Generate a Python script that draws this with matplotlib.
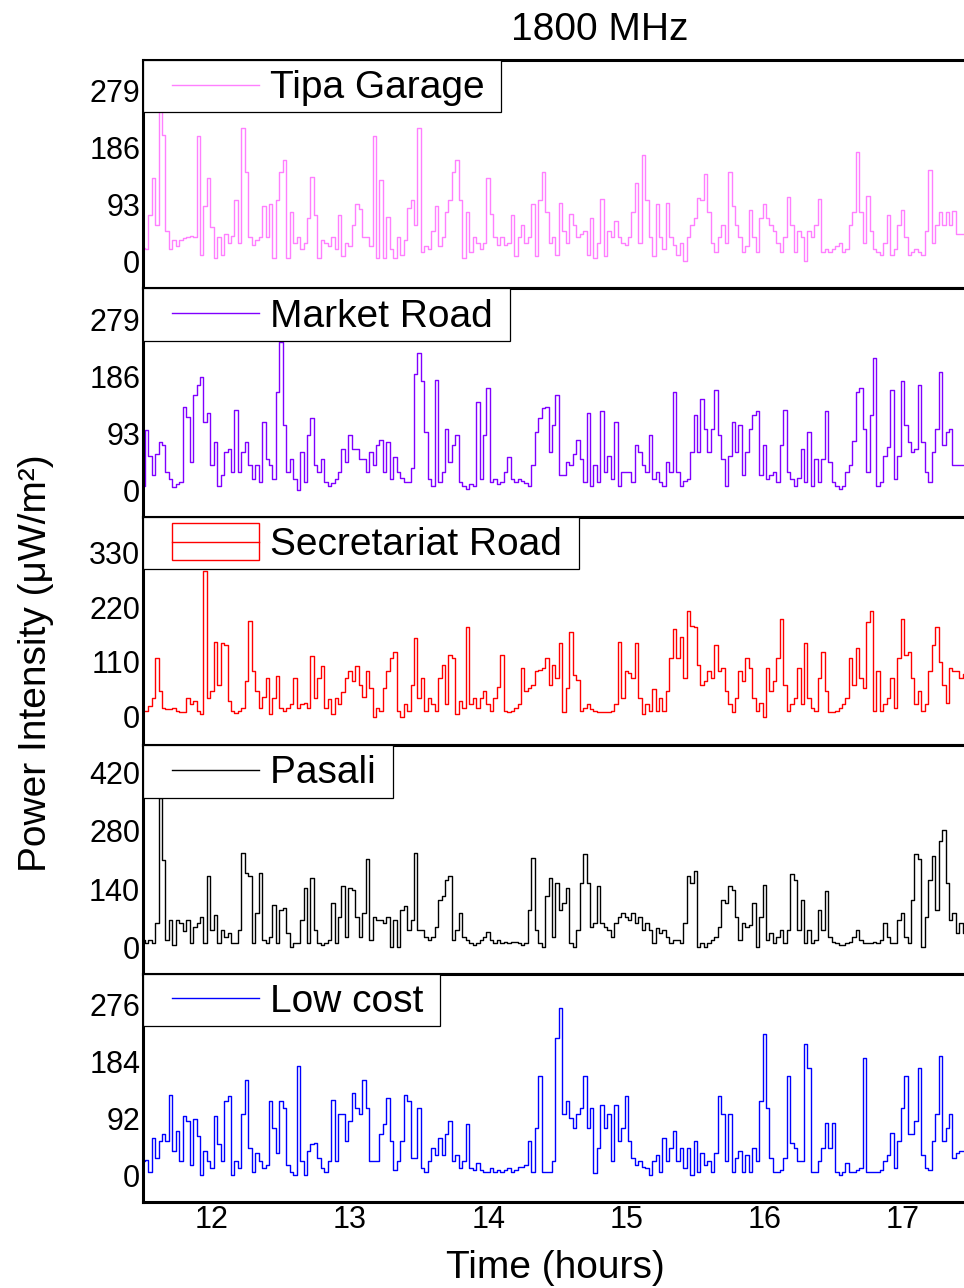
import matplotlib
matplotlib.use("Agg")
import matplotlib.pyplot as plt
import numpy as np
from matplotlib.legend_handler import HandlerBase
from matplotlib.lines import Line2D
from matplotlib.patches import Rectangle

plt.rcParams['font.family'] = ['Liberation Sans', 'DejaVu Sans']

# ---------------- data ----------------
start_hour = 11.5          # first sample (hours)
step_minutes = 1.5         # sampling interval

tipa_garage = [
    21, 20, 75, 135, 60, 245, 206, 50, 20, 35,
    25, 35, 38, 40, 42, 40, 204, 10, 90, 135,
    56, 5, 40, 10, 45, 30, 42, 100, 30, 217,
    145, 40, 26, 35, 40, 90, 40, 93, 6, 100,
    145, 165, 5, 80, 30, 40, 20, 30, 70, 137,
    76, 6, 35, 30, 25, 40, 20, 76, 8, 30,
    25, 60, 93, 85, 40, 40, 25, 204, 6, 132,
    5, 72, 20, 5, 40, 10, 35, 87, 100, 60,
    217, 15, 25, 20, 50, 90, 25, 40, 80, 100,
    145, 165, 100, 5, 80, 15, 40, 30, 20, 30,
    135, 77, 40, 26, 40, 26, 30, 76, 8, 40,
    60, 30, 40, 93, 8, 100, 146, 80, 30, 40,
    10, 95, 50, 30, 77, 60, 40, 45, 50, 10,
    70, 5, 30, 101, 8, 50, 40, 66, 40, 30,
    26, 40, 80, 127, 30, 173, 100, 40, 8, 93,
    40, 20, 95, 40, 26, 10, 30, 0, 40, 60,
    70, 104, 100, 143, 80, 30, 15, 40, 60, 30,
    146, 90, 60, 40, 15, 25, 84, 40, 15, 70,
    93, 70, 60, 50, 30, 15, 40, 105, 60, 15,
    50, 40, 0, 50, 40, 60, 101, 15, 20, 15,
    20, 25, 30, 15, 20, 60, 80, 178, 80, 30,
    107, 50, 20, 15, 10, 30, 75, 10, 20, 60,
    84, 40, 10, 15, 20, 15, 10, 50, 149, 30,
    60, 80, 60, 80, 60, 82, 44, 44, 44, 44,
]

market_road = [
    8, 98, 57, 25, 60, 79, 74, 30, 19, 5,
    10, 14, 137, 120, 46, 156, 172, 186, 112, 126,
    41, 79, 8, 25, 63, 68, 30, 131, 30, 63,
    79, 41, 19, 41, 14, 112, 52, 41, 19, 161,
    243, 107, 30, 52, 19, 0, 63, 14, 90, 118,
    41, 30, 52, 14, 8, 12, 19, 30, 68, 46,
    90, 68, 68, 52, 52, 30, 63, 41, 74, 82,
    30, 79, 19, 55, 30, 20, 14, 14, 36, 191,
    224, 178, 96, 19, 8, 180, 14, 30, 101, 46,
    74, 90, 14, 8, 3, 11, 8, 145, 19, 90,
    167, 14, 19, 11, 14, 30, 55, 19, 14, 19,
    16, 12, 8, 41, 96, 118, 134, 137, 63, 107,
    156, 25, 25, 46, 41, 60, 82, 52, 14, 126,
    8, 41, 14, 129, 30, 57, 19, 112, 8, 30,
    30, 30, 14, 74, 63, 41, 30, 90, 19, 30,
    14, 8, 46, 30, 161, 30, 8, 15, 19, 63,
    123, 63, 150, 101, 63, 101, 164, 90, 52, 8,
    57, 112, 63, 107, 25, 63, 100, 123, 129, 25,
    74, 19, 25, 30, 14, 74, 131, 30, 19, 8,
    20, 68, 14, 96, 8, 52, 14, 52, 129, 46,
    14, 8, 3, 8, 30, 41, 80, 161, 167, 101,
    30, 123, 216, 8, 14, 57, 71, 164, 19, 57,
    178, 107, 79, 63, 68, 172, 79, 30, 14, 63,
    100, 194, 74, 96, 101, 41, 41, 41, 41, 41,
]

secretariat_road = [
    12, 12, 22, 38, 117, 51, 18, 15, 15, 18,
    12, 9, 9, 38, 25, 32, 12, 5, 292, 38,
    51, 150, 64, 147, 144, 32, 12, 7, 12, 18,
    71, 193, 91, 51, 18, 40, 78, 5, 38, 81,
    18, 12, 18, 25, 78, 18, 25, 28, 18, 121,
    38, 78, 101, 18, 35, 5, 38, 25, 50, 78,
    91, 71, 101, 64, 40, 91, 58, 0, 18, 12,
    58, 91, 117, 130, 12, 0, 25, 12, 64, 157,
    38, 78, 12, 38, 25, 12, 78, 104, 25, 124,
    117, 5, 32, 18, 180, 25, 38, 18, 38, 51,
    25, 12, 38, 60, 124, 12, 9, 12, 18, 25,
    97, 51, 58, 64, 91, 94, 97, 117, 64, 104,
    78, 147, 9, 58, 170, 84, 74, 12, 18, 25,
    15, 12, 9, 9, 9, 9, 12, 25, 150, 38,
    91, 88, 78, 147, 38, 5, 25, 12, 55, 12,
    38, 12, 51, 117, 177, 117, 160, 78, 213, 183,
    180, 104, 64, 71, 91, 78, 144, 91, 97, 51,
    25, 9, 38, 91, 71, 117, 97, 38, 12, 28,
    0, 97, 51, 71, 117, 196, 64, 12, 25, 38,
    97, 25, 147, 38, 18, 12, 78, 130, 51, 9,
    9, 12, 18, 25, 38, 117, 64, 137, 78, 58,
    190, 213, 12, 91, 12, 25, 38, 78, 18, 117,
    196, 124, 130, 78, 25, 51, 12, 25, 91, 144,
    180, 110, 64, 28, 97, 91, 91, 78, 85, 85,
]

pasali = [
    18, 10, 18, 10, 58, 358, 209, 18, 66, 6,
    66, 58, 40, 66, 10, 50, 58, 74, 10, 172,
    42, 78, 10, 42, 26, 34, 10, 10, 42, 228,
    180, 172, 10, 82, 180, 18, 10, 26, 103, 10,
    91, 95, 34, 0, 10, 10, 66, 143, 10, 167,
    42, 10, 6, 10, 18, 107, 10, 74, 147, 26,
    143, 139, 74, 26, 82, 212, 18, 74, 66, 66,
    58, 74, 2, 66, 2, 91, 99, 42, 66, 228,
    42, 42, 26, 18, 26, 50, 115, 123, 163, 172,
    18, 42, 83, 26, 18, 10, 6, 10, 18, 26,
    38, 18, 10, 18, 10, 14, 10, 12, 14, 10,
    6, 10, 91, 216, 42, 10, 0, 123, 167, 26,
    155, 91, 107, 143, 10, 0, 42, 155, 224, 155,
    50, 58, 147, 58, 50, 42, 26, 58, 74, 83,
    74, 66, 83, 58, 74, 42, 58, 42, 10, 46,
    34, 42, 26, 10, 18, 18, 10, 58, 172, 155,
    184, 2, 10, 2, 10, 18, 26, 50, 115, 107,
    147, 139, 74, 18, 58, 50, 54, 107, 2, 74,
    151, 18, 34, 10, 26, 42, 10, 42, 176, 163,
    42, 115, 10, 42, 10, 18, 91, 42, 135, 26,
    14, 10, 6, 6, 10, 14, 26, 42, 18, 10,
    10, 10, 14, 10, 18, 58, 26, 10, 10, 66,
    83, 26, 10, 115, 224, 212, 2, 74, 163, 220,
    91, 256, 281, 155, 66, 83, 34, 58, 34, 34,
]

low_cost = [
    23, 25, 6, 60, 28, 55, 66, 55, 130, 39,
    71, 23, 95, 87, 17, 90, 63, 0, 39, 23,
    12, 95, 50, 23, 119, 128, 0, 23, 12, 98,
    154, 44, 6, 36, 23, 12, 17, 119, 76, 36,
    119, 109, 17, 6, 1, 176, 23, 1, 39, 50,
    52, 28, 12, 6, 23, 122, 23, 98, 98, 55,
    87, 133, 109, 98, 154, 109, 23, 23, 23, 66,
    82, 125, 55, 9, 23, 55, 130, 119, 28, 28,
    109, 12, 6, 23, 44, 33, 60, 33, 66, 87,
    23, 33, 12, 23, 82, 12, 9, 20, 9, 6,
    6, 12, 6, 9, 6, 9, 12, 6, 9, 14,
    14, 17, 55, 6, 76, 160, 6, 6, 6, 23,
    222, 270, 98, 119, 92, 76, 98, 109, 160, 76,
    109, 4, 44, 114, 76, 98, 23, 114, 55, 76,
    128, 55, 28, 17, 23, 14, 12, 0, 23, 33,
    6, 60, 23, 44, 71, 23, 44, 12, 44, 1,
    55, 6, 36, 17, 23, 6, 36, 128, 98, 23,
    98, 6, 28, 39, 6, 33, 6, 44, 23, 119,
    227, 109, 28, 6, 6, 9, 28, 160, 52, 44,
    23, 23, 211, 173, 6, 6, 23, 44, 84, 44,
    84, 6, 1, 6, 20, 6, 6, 9, 12, 189,
    6, 6, 6, 6, 9, 23, 33, 68, 12, 55,
    109, 160, 66, 66, 87, 173, 33, 12, 9, 55,
    98, 192, 55, 76, 98, 28, 36, 39, 39, 39,
]

site_names = ["Tipa Garage", "Market Road", "Secretariat Road", "Pasali", "Low cost"]
site_values = [tipa_garage, market_road, secretariat_road, pasali, low_cost]
site_colors = ["#FF7FFF", "#8000FF", "#FF0000", "#000000", "#0000FF"]
site_yticks = [[0, 93, 186, 279], [0, 93, 186, 279], [0, 110, 220, 330],
               [0, 140, 280, 420], [0, 92, 184, 276]]
site_ylims = [(-44, 328), (-43, 330), (-57, 401), (-63, 486), (-43, 325)]
x_ticks = [12, 13, 14, 15, 16, 17]
title_text = "1800 MHz"
x_label = "Time (hours)"
y_label = "Power Intensity (\u03bcW/m\u00b2)"


class OffsetHandle(HandlerBase):
    """Legend handle: a line (optionally inside an outlined box) drawn in the
    right part of the handle area."""
    def __init__(self, frac=0.21, box=False):
        super().__init__()
        self.frac = frac
        self.box = box

    def create_artists(self, legend, orig_handle, xdescent, ydescent,
                       width, height, fontsize, trans):
        x0 = -xdescent + self.frac * width
        x1 = -xdescent + width
        ymid = -ydescent + height / 2.0
        col = orig_handle.get_color()
        arts = []
        if self.box:
            r = Rectangle((x0, -ydescent), x1 - x0, height, facecolor='none',
                          edgecolor=col, lw=1.0, transform=trans)
            arts.append(r)
        ln = Line2D([x0, x1], [ymid, ymid], color=col, lw=1.0, transform=trans)
        arts.append(ln)
        return arts


W, H = 964, 1288
fig = plt.figure(figsize=(W / 100, H / 100), dpi=100)

left = 143 / W
right = 1057 / W
top_px, bottom_px = 60, 1202
ph = (bottom_px - top_px) / 5 / H

step_h = step_minutes / 60.0
for k, (name, vals, col, yt, yl) in enumerate(
        zip(site_names, site_values, site_colors, site_yticks, site_ylims)):
    y0 = 1 - top_px / H - (k + 1) * ph
    ax = fig.add_axes([left, y0, right - left, ph])
    v = np.asarray(vals, dtype=float)
    t = start_hour + np.arange(len(v)) * step_h
    line, = ax.plot(t, v, color=col, lw=1.0, drawstyle='steps-mid')
    ax.set_xlim(11.5, 18.12)
    ax.set_ylim(*yl)
    ax.set_yticks(yt)
    ax.set_xticks(x_ticks)
    ax.tick_params(axis='both', length=0, labelsize=22, pad=2)
    if k < 4:
        ax.tick_params(axis='x', labelbottom=False)
    for s in ax.spines.values():
        s.set_linewidth(2.2)
        s.set_color('black')
    leg = ax.legend([line], [name + " "], loc='upper left',
                    bbox_to_anchor=(0, 1), borderaxespad=0, borderpad=0.16,
                    handlelength=2.82, handleheight=1.1, handletextpad=0.28,
                    fontsize=28, frameon=True, fancybox=False,
                    edgecolor='black', framealpha=1,
                    handler_map={line: OffsetHandle(box=(k == 2))})
    leg.get_frame().set_linewidth(0.9)

fig.text(600 / W, 1 - 40 / H, title_text, ha='center', va='baseline', fontsize=28)
fig.text(36 / W, 1 - 663 / H, y_label, ha='center', va='center',
         rotation=90, fontsize=28)
fig.text(555 / W, 1 - 1268 / H, x_label, ha='center', va='center', fontsize=28)

fig.savefig("out.png", dpi=100)
